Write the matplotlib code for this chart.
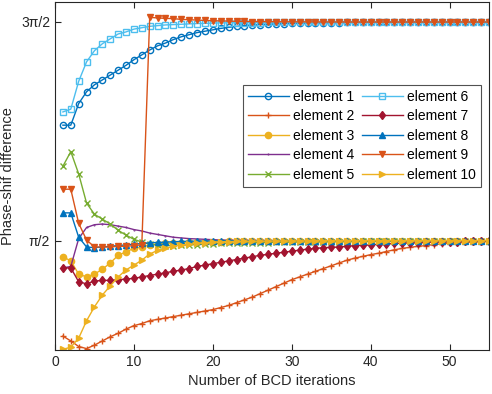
import numpy as np
import matplotlib
matplotlib.use("Agg")
import matplotlib.pyplot as plt

plt.rcParams["font.family"] = ["Liberation Sans", "DejaVu Sans"]

iterations = list(range(1, 56))

e1 = [3.23, 3.23, 3.54, 3.71, 3.81, 3.88, 3.95, 4.02, 4.09, 4.17,
      4.24, 4.31, 4.37, 4.41, 4.46, 4.50, 4.53, 4.56, 4.58, 4.60,
      4.62, 4.635, 4.65, 4.66, 4.67, 4.675, 4.68, 4.685, 4.69, 4.693,
      4.696, 4.699, 4.70, 4.702, 4.704, 4.705, 4.706, 4.707, 4.708, 4.708,
      4.709, 4.709, 4.710, 4.710, 4.710, 4.711, 4.711, 4.711, 4.711, 4.712,
      4.712, 4.712, 4.712, 4.712, 4.712]
e2 = [0.20, 0.13, 0.05, 0.02, 0.07, 0.13, 0.19, 0.24, 0.30, 0.35,
      0.38, 0.42, 0.44, 0.46, 0.48, 0.50, 0.52, 0.54, 0.56, 0.58,
      0.61, 0.64, 0.68, 0.72, 0.76, 0.81, 0.86, 0.91, 0.96, 1.01,
      1.05, 1.09, 1.13, 1.17, 1.21, 1.25, 1.29, 1.32, 1.345, 1.37,
      1.39, 1.415, 1.44, 1.46, 1.475, 1.49, 1.50, 1.515, 1.525, 1.535,
      1.54, 1.545, 1.55, 1.555, 1.56]
e3 = [1.34, 1.28, 1.09, 1.05, 1.09, 1.16, 1.25, 1.36, 1.41, 1.46,
      1.48, 1.51, 1.52, 1.53, 1.535, 1.54, 1.545, 1.55, 1.553, 1.556,
      1.558, 1.56, 1.562, 1.563, 1.564, 1.565, 1.566, 1.567, 1.567, 1.568,
      1.568, 1.569, 1.569, 1.569, 1.570, 1.570, 1.570, 1.570, 1.570, 1.570,
      1.571, 1.571, 1.571, 1.571, 1.571, 1.571, 1.571, 1.571, 1.571, 1.571,
      1.571, 1.571, 1.571, 1.571, 1.571]
e4 = [1.18, 1.20, 1.60, 1.76, 1.80, 1.81, 1.80, 1.78, 1.76, 1.73,
      1.71, 1.68, 1.66, 1.64, 1.62, 1.61, 1.60, 1.595, 1.59, 1.585,
      1.58, 1.578, 1.576, 1.575, 1.574, 1.573, 1.573, 1.572, 1.572, 1.572,
      1.571, 1.571, 1.571, 1.571, 1.571, 1.571, 1.571, 1.571, 1.571, 1.571,
      1.571, 1.571, 1.571, 1.571, 1.571, 1.571, 1.571, 1.571, 1.571, 1.571,
      1.571, 1.571, 1.571, 1.571, 1.571]
e5 = [2.64, 2.85, 2.53, 2.11, 1.95, 1.88, 1.81, 1.72, 1.65, 1.59,
      1.55, 1.52, 1.51, 1.50, 1.50, 1.505, 1.51, 1.515, 1.52, 1.525,
      1.53, 1.533, 1.536, 1.538, 1.54, 1.542, 1.544, 1.546, 1.548, 1.55,
      1.551, 1.552, 1.553, 1.554, 1.555, 1.556, 1.557, 1.558, 1.559, 1.56,
      1.561, 1.562, 1.563, 1.564, 1.565, 1.565, 1.566, 1.566, 1.567, 1.567,
      1.568, 1.568, 1.569, 1.569, 1.57]
e6 = [3.42, 3.46, 3.86, 4.14, 4.30, 4.40, 4.47, 4.54, 4.57, 4.61,
      4.63, 4.65, 4.66, 4.67, 4.675, 4.68, 4.685, 4.69, 4.693, 4.696,
      4.70, 4.70, 4.702, 4.703, 4.704, 4.705, 4.706, 4.707, 4.708, 4.708,
      4.709, 4.709, 4.710, 4.710, 4.710, 4.711, 4.711, 4.711, 4.711, 4.712,
      4.712, 4.712, 4.712, 4.712, 4.712, 4.712, 4.712, 4.712, 4.712, 4.712,
      4.712, 4.712, 4.712, 4.712, 4.712]
e7 = [1.18, 1.18, 0.98, 0.95, 0.99, 1.00, 1.00, 1.01, 1.02, 1.03,
      1.05, 1.07, 1.09, 1.11, 1.13, 1.15, 1.17, 1.20, 1.22, 1.24,
      1.26, 1.28, 1.30, 1.32, 1.34, 1.36, 1.375, 1.39, 1.405, 1.42,
      1.435, 1.45, 1.46, 1.47, 1.475, 1.48, 1.49, 1.50, 1.505, 1.51,
      1.52, 1.525, 1.53, 1.535, 1.54, 1.54, 1.545, 1.55, 1.55, 1.555,
      1.555, 1.56, 1.56, 1.56, 1.565]
e8 = [1.97, 1.97, 1.62, 1.48, 1.47, 1.48, 1.49, 1.50, 1.51, 1.52,
      1.53, 1.54, 1.545, 1.55, 1.555, 1.56, 1.562, 1.565, 1.567, 1.568,
      1.569, 1.57, 1.57, 1.571, 1.571, 1.571, 1.571, 1.571, 1.571, 1.571,
      1.571, 1.571, 1.571, 1.571, 1.571, 1.571, 1.571, 1.571, 1.571, 1.571,
      1.571, 1.571, 1.571, 1.571, 1.571, 1.571, 1.571, 1.571, 1.571, 1.571,
      1.571, 1.571, 1.571, 1.571, 1.571]
e9 = [2.31, 2.31, 1.82, 1.58, 1.48, 1.48, 1.48, 1.49, 1.49, 1.50,
      1.51, 4.78, 4.77, 4.765, 4.76, 4.75, 4.745, 4.74, 4.735, 4.73,
      4.728, 4.725, 4.722, 4.72, 4.719, 4.718, 4.717, 4.716, 4.715, 4.715,
      4.714, 4.714, 4.713, 4.713, 4.713, 4.713, 4.712, 4.712, 4.712, 4.712,
      4.712, 4.712, 4.712, 4.712, 4.712, 4.712, 4.712, 4.712, 4.712, 4.712,
      4.712, 4.712, 4.712, 4.712, 4.712]
e10 = [0.01, 0.04, 0.17, 0.42, 0.62, 0.79, 0.92, 1.05, 1.15, 1.22,
       1.29, 1.38, 1.43, 1.46, 1.49, 1.51, 1.52, 1.53, 1.54, 1.55,
       1.555, 1.558, 1.56, 1.562, 1.564, 1.565, 1.566, 1.567, 1.568, 1.568,
       1.569, 1.569, 1.57, 1.57, 1.57, 1.57, 1.571, 1.571, 1.571, 1.571,
       1.571, 1.571, 1.571, 1.571, 1.571, 1.571, 1.571, 1.571, 1.571, 1.571,
       1.571, 1.571, 1.571, 1.571, 1.571]

series = [e1, e2, e3, e4, e5, e6, e7, e8, e9, e10]
labels = ["element %d" % (i + 1) for i in range(10)]
colors = ["#0072BD", "#D95319", "#EDB120", "#7E2F8E", "#77AC30",
          "#4DBEEE", "#A2142F", "#0072BD", "#D95319", "#EDB120"]
markers = ["o", "+", "o", ".", "x", "s", "d", "^", "v", ">"]
filled = [False, True, True, True, True, False, True, True, True, True]

fig = plt.figure(figsize=(4.92, 3.94), dpi=100)
ax = fig.add_axes([0.1118, 0.1117, 0.8822, 0.8833])

for y, lab, c, m, f in zip(series, labels, colors, markers, filled):
    ms = 4.5
    if m == ".":
        ms = 1
    ax.plot(iterations, y, color=c, marker=m, markersize=ms, lw=1.0,
            markerfacecolor=c if f else "none", markeredgecolor=c,
            markeredgewidth=1.0, label=lab)

ax.set_xlim(0, 55)
ax.set_ylim(0, 5)
ax.set_xticks([0, 10, 20, 30, 40, 50])
ax.set_yticks([np.pi / 2, 3 * np.pi / 2])
ax.set_yticklabels(["π/2", "3π/2"])
ax.tick_params(direction="in", top=True, right=True, labelsize=10,
               colors="#262626", length=4, width=0.8)
for sp in ax.spines.values():
    sp.set_color("#262626")
    sp.set_linewidth(0.8)
ax.set_xlabel("Number of BCD iterations", fontsize=10.5, color="#262626")
ax.set_ylabel("Phase-shif difference", fontsize=10.5, color="#262626")

leg = ax.legend(ncol=2, loc="upper right", bbox_to_anchor=(0.998, 0.782),
                fontsize=10, fancybox=False, handlelength=3.0,
                columnspacing=0.5, handletextpad=0.3, labelspacing=0.4,
                borderpad=0.35)
leg.get_frame().set_edgecolor("#262626")
leg.get_frame().set_linewidth(0.8)

fig.savefig("out.png", dpi=100)
